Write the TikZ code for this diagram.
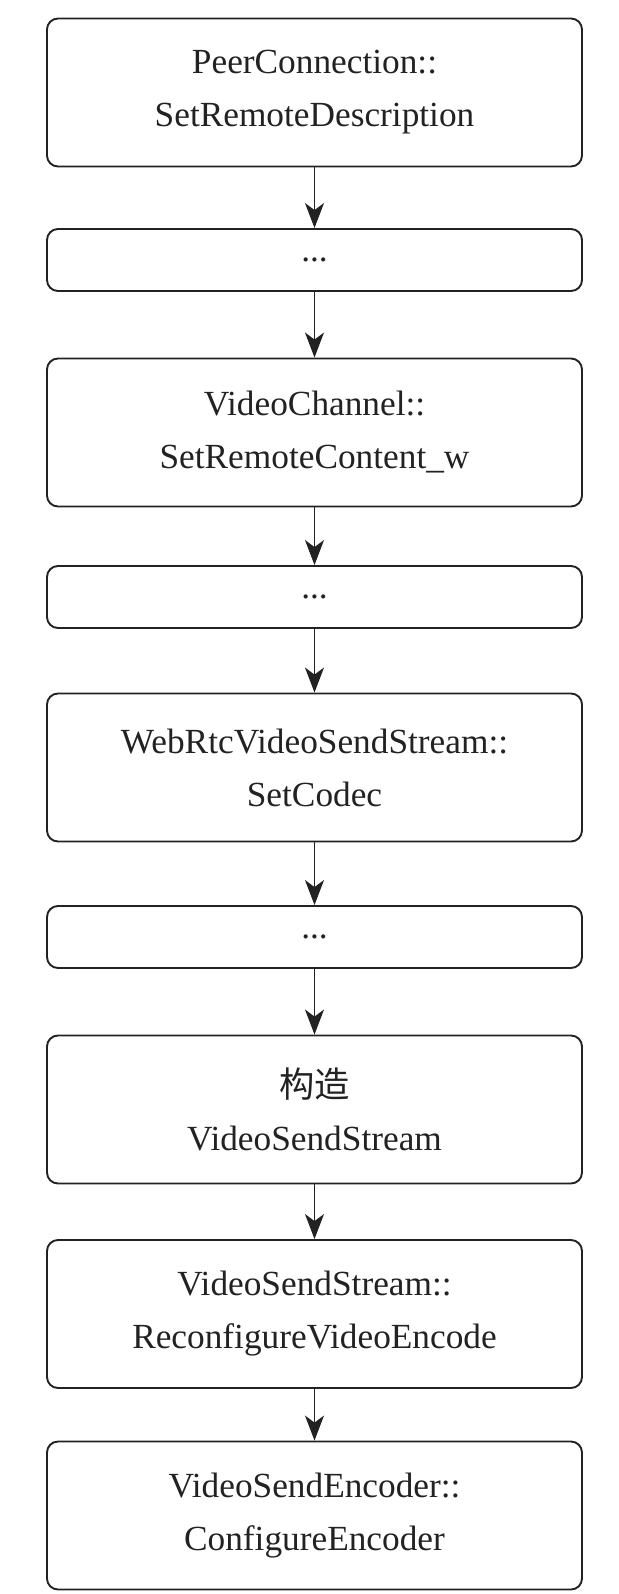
\documentclass[tikz,border=0pt]{standalone}
\usepackage{fontspec}
\setmainfont{Liberation Serif}
\newfontfamily\cjk{Noto Sans CJK SC}
\usetikzlibrary{arrows.meta}
\definecolor{ink}{HTML}{222222}
\begin{document}
\begin{tikzpicture}[x=1pt,y=-1pt,
  box/.style={draw=ink, line width=1.9pt, rounded corners=11pt, minimum width=535pt, inner sep=0pt, align=center, font=\fontsize{35.3}{53}\selectfont, text=ink},
  bigbox/.style={box, minimum height=148pt},
  smallbox/.style={box, minimum height=62pt},
  flow/.style={draw=ink, line width=1.6pt, -{Stealth[length=25pt,width=19pt,inset=7pt]}}]
\useasboundingbox (0,0) rectangle (618,1594);
\node[bigbox] (b1) at (314.5,92.5) {PeerConnection::\\SetRemoteDescription};
\node[smallbox] (b2) at (314.5,260) {...};
\node[bigbox] (b3) at (314.5,432.5) {VideoChannel::\\SetRemoteContent\_w};
\node[smallbox] (b4) at (314.5,597) {...};
\node[bigbox] (b5) at (314.5,767.5) {WebRtcVideoSendStream::\\SetCodec};
\node[smallbox] (b6) at (314.5,937) {...};
\node[bigbox] (b7) at (314.5,1109.5) {{\cjk 构造}\\VideoSendStream};
\node[bigbox] (b8) at (314.5,1314) {VideoSendStream::\\ReconfigureVideoEncode};
\node[bigbox] (b9) at (314.5,1515.5) {VideoSendEncoder::\\ConfigureEncoder};
\draw[flow] (b1.south) -- (b2.north);
\draw[flow] (b2.south) -- (b3.north);
\draw[flow] (b3.south) -- (b4.north);
\draw[flow] (b4.south) -- (b5.north);
\draw[flow] (b5.south) -- (b6.north);
\draw[flow] (b6.south) -- (b7.north);
\draw[flow] (b7.south) -- (b8.north);
\draw[flow] (b8.south) -- (b9.north);
\end{tikzpicture}
\end{document}
